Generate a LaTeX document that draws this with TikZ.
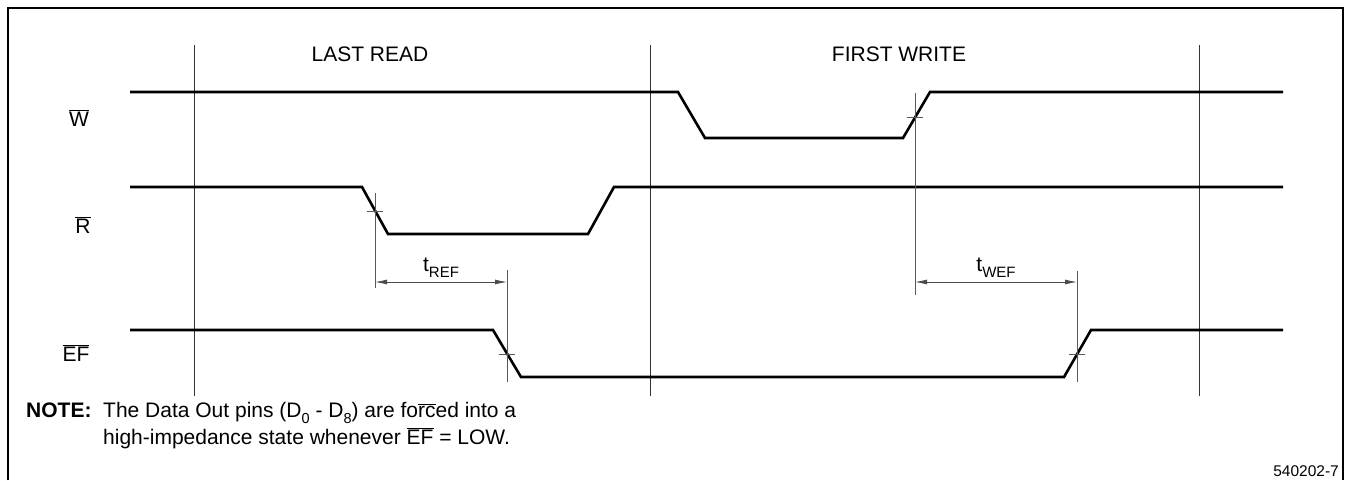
\documentclass[tikz,border=0pt]{standalone}
\usepackage{fontspec}
\setmainfont{Liberation Sans}
\usetikzlibrary{arrows.meta}
\tikzset{
  sig/.style={line width=2.6pt, line join=miter},
  gridline/.style={line width=1pt, black!80},
  markline/.style={line width=0.8pt, black!65},
  tickline/.style={line width=0.8pt, black!65},
  dimline/.style={line width=0.8pt, black!70, {Latex[length=12pt,width=5pt]}-{Latex[length=12pt,width=5pt]}},
  lbl/.style={font=\fontsize{21}{25}\selectfont, inner sep=0pt},
  smalllbl/.style={font=\fontsize{15.5}{18}\selectfont, inner sep=0pt},
}
\newcommand{\sublbl}[2]{#1\raisebox{-0.3em}{\fontsize{15}{15}\selectfont #2}}
\newcommand{\ovl}[1]{\ensuremath{\overline{\mbox{#1}}}}
\newcommand{\subd}[1]{\raisebox{-0.3em}{\fontsize{14.5}{14.5}\selectfont #1}}
\begin{document}
\begin{tikzpicture}[x=1pt,y=-1pt]
\useasboundingbox (0,0) rectangle (1347,480);
% frame (open at bottom)
\draw[line width=1.5pt] (8,480) -- (8,8) -- (1343,8) -- (1343,480);
% grid lines
\foreach \x/\n in {194/g1,650/g2,1199/g3}{
  \coordinate (\n t) at (\x,45); \coordinate (\n b) at (\x,396);
  \draw[gridline] (\n t) -- (\n b);
}
% section labels
\node[lbl] (lastread) at (370,54) {LAST READ};
\node[lbl] (firstwrite) at (899,54) {FIRST WRITE};
% signal labels
\node[lbl] (wlab) at (79,118) {\ovl{W}};
\node[lbl] (rlab) at (83,225) {\ovl{R}};
\node[lbl] (eflab) at (76,353) {\ovl{EF}};
% signals
\draw[sig] (130,92) -- (678,92) -- (705,138) -- (903,138) -- (930,92) -- (1283,92);
\draw[sig] (130,187) -- (362,187) -- (388,234) -- (588,234) -- (614,187) -- (1283,187);
\draw[sig] (130,330) -- (493,330) -- (521,377) -- (1064,377) -- (1091,330) -- (1283,330);
% marker lines
\coordinate (m1t) at (375,193); \coordinate (m1b) at (375,288);
\coordinate (m2t) at (507,270); \coordinate (m2b) at (507,382);
\coordinate (m3t) at (915,93);  \coordinate (m3b) at (915,295);
\coordinate (m4t) at (1077,271); \coordinate (m4b) at (1077,382);
\draw[markline] (m1t) -- (m1b);
\draw[markline] (m2t) -- (m2b);
\draw[markline] (m3t) -- (m3b);
\draw[markline] (m4t) -- (m4b);
% ticks
\draw[tickline] (367,211) -- (383,211);
\draw[tickline] (499,354) -- (515,354);
\draw[tickline] (907,117) -- (923,117);
\draw[tickline] (1069,354) -- (1085,354);
% dimension arrows
\coordinate (a1) at (375,282); \coordinate (a2) at (507,282);
\coordinate (a3) at (915,282); \coordinate (a4) at (1077,282);
\draw[dimline] (a1) -- (a2);
\draw[dimline] (a3) -- (a4);
\node[lbl] (tref) at (441,268) {\sublbl{t}{REF}};
\node[lbl] (twef) at (996,268) {\sublbl{t}{WEF}};
% note
\node[lbl, anchor=base west] (notehd) at (26,417) {\textbf{NOTE:}};
\node[lbl, anchor=base west] (note1) at (103,417) {The Data Out pins (D\subd{0} - D\subd{8}) are fo\ovl{rc}ed into a};
\node[lbl, anchor=base west] (note2) at (103,444) {high-impedance state whenever \ovl{EF} = LOW.};
\node[smalllbl, anchor=base east] (fig) at (1339,476) {540202-7};
\end{tikzpicture}
\end{document}
